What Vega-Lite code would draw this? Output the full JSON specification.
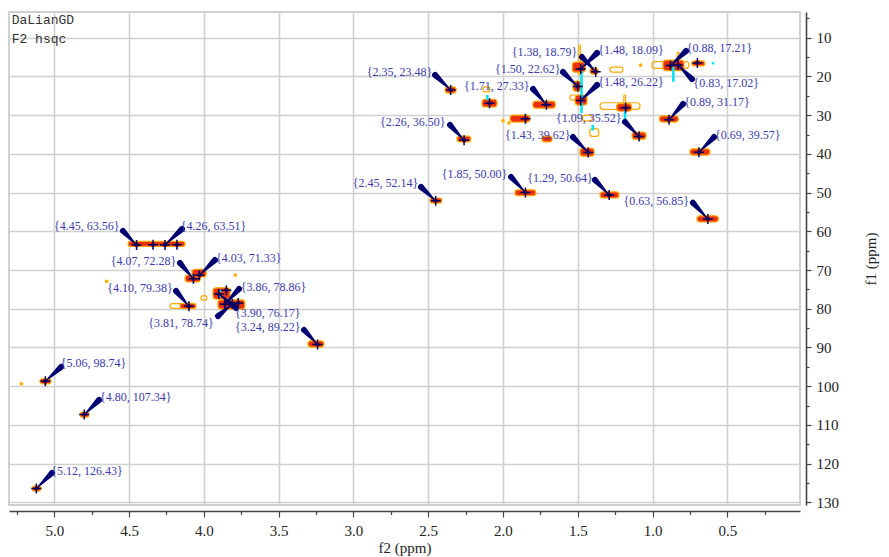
{
  "$schema": "https://vega.github.io/schema/vega-lite/v6.json",
  "width": 791,
  "height": 493,
  "autosize": {"type": "none"},
  "padding": {"left": 9, "top": 12, "right": 89, "bottom": 52},
  "background": "white",
  "config": {
    "view": {"stroke": "#d0d0d0", "strokeWidth": 2},
    "axis": {
      "domainColor": "#444444", "domainWidth": 1.6, "tickColor": "#444444", "tickWidth": 1.2,
      "gridColor": "#d0d0d0", "gridWidth": 1.6,
      "labelFont": "Liberation Serif", "labelFontSize": 15, "labelColor": "#222222",
      "titleFont": "Liberation Serif", "titleFontSize": 15, "titleFontWeight": "normal", "titleColor": "#222222",
      "labelFlush": false, "labelOverlap": false
    }
  },
  "datasets": {
    "blobs": [
      {"f2": 2.387, "f2b": 2.313, "f1": 22.7, "f1b": 24.3},
      {"f2": 2.14, "f2b": 2.04, "f1": 25.9, "f1b": 27.9},
      {"f2": 1.80, "f2b": 1.65, "f1": 26.4, "f1b": 28.2},
      {"f2": 1.953, "f2b": 1.819, "f1": 30.0, "f1b": 31.8},
      {"f2": 2.308, "f2b": 2.215, "f1": 35.4, "f1b": 36.9},
      {"f2": 1.739, "f2b": 1.672, "f1": 35.4, "f1b": 36.9},
      {"f2": 1.536, "f2b": 1.450, "f1": 16.3, "f1b": 18.9},
      {"f2": 1.418, "f2b": 1.364, "f1": 17.8, "f1b": 19.4},
      {"f2": 0.93, "f2b": 0.79, "f1": 15.8, "f1b": 18.5},
      {"f2": 0.737, "f2b": 0.650, "f1": 16.0, "f1b": 17.3},
      {"f2": 1.531, "f2b": 1.477, "f1": 21.2, "f1b": 23.8},
      {"f2": 1.518, "f2b": 1.438, "f1": 24.8, "f1b": 27.4},
      {"f2": 1.24, "f2b": 1.14, "f1": 27.0, "f1b": 29.0},
      {"f2": 1.137, "f2b": 1.043, "f1": 34.4, "f1b": 36.2},
      {"f2": 1.485, "f2b": 1.391, "f1": 38.5, "f1b": 40.6},
      {"f2": 0.954, "f2b": 0.827, "f1": 30.2, "f1b": 31.8},
      {"f2": 0.750, "f2b": 0.616, "f1": 38.7, "f1b": 40.3},
      {"f2": 1.920, "f2b": 1.780, "f1": 49.3, "f1b": 50.8},
      {"f2": 1.351, "f2b": 1.224, "f1": 49.8, "f1b": 51.4},
      {"f2": 0.703, "f2b": 0.560, "f1": 56.0, "f1b": 57.6},
      {"f2": 2.488, "f2b": 2.408, "f1": 51.4, "f1b": 52.7},
      {"f2": 4.507, "f2b": 4.126, "f1": 62.6, "f1b": 63.9},
      {"f2": 4.126, "f2b": 4.025, "f1": 71.3, "f1b": 73.1},
      {"f2": 4.079, "f2b": 3.985, "f1": 69.8, "f1b": 71.8},
      {"f2": 4.16, "f2b": 4.052, "f1": 78.6, "f1b": 80.0},
      {"f2": 3.939, "f2b": 3.825, "f1": 74.6, "f1b": 77.5},
      {"f2": 3.906, "f2b": 3.726, "f1": 77.7, "f1b": 80.1},
      {"f2": 3.304, "f2b": 3.197, "f1": 88.3, "f1b": 89.9},
      {"f2": 5.096, "f2b": 5.022, "f1": 98.1, "f1b": 99.4},
      {"f2": 4.828, "f2b": 4.768, "f1": 106.7, "f1b": 108.0},
      {"f2": 5.149, "f2b": 5.089, "f1": 125.8, "f1b": 127.1}
    ],
    "weak": [
      {"f2": 1.47, "f2b": 1.40, "f1": 30.0, "f1b": 31.5},
      {"f2": 1.42, "f2b": 1.36, "f1": 33.5, "f1b": 35.5},
      {"f2": 1.285, "f2b": 1.198, "f1": 17.6, "f1b": 18.9},
      {"f2": 2.134, "f2b": 2.087, "f1": 22.7, "f1b": 24.0},
      {"f2": 1.495, "f2b": 1.482, "f1": 11.9, "f1b": 19.6},
      {"f2": 0.835, "f2b": 0.822, "f1": 13.7, "f1b": 18.3},
      {"f2": 1.192, "f2b": 1.180, "f1": 24.8, "f1b": 28.7},
      {"f2": 1.553, "f2b": 1.506, "f1": 24.8, "f1b": 26.1},
      {"f2": 4.02, "f2b": 3.98, "f1": 76.6, "f1b": 77.8},
      {"f2": 1.351, "f2b": 1.084, "f1": 26.8, "f1b": 28.5},
      {"f2": 1.004, "f2b": 0.757, "f1": 16.2, "f1b": 17.9},
      {"f2": 4.226, "f2b": 4.10, "f1": 78.7, "f1b": 79.9}
    ],
    "dots": [
      {"f2": 4.65, "f1": 72.9},
      {"f2": 3.79, "f1": 71.3},
      {"f2": 5.22, "f1": 99.4},
      {"f2": 1.08, "f1": 17.05},
      {"f2": 1.96, "f1": 32.0},
      {"f2": 2.0, "f1": 31.4}
    ],
    "cyan": [
      {"f2": 1.475, "f1": 17.5, "f1b": 29.5},
      {"f2": 1.184, "f1": 28.7, "f1b": 32.0},
      {"f2": 2.105, "f1": 24.8, "f1b": 26.1},
      {"f2": 0.861, "f1": 17.5, "f1b": 21.4},
      {"f2": 3.892, "f1": 75.2, "f1b": 77.0},
      {"f2": 1.40, "f1": 32.5, "f1b": 34.0},
      {"f2": 0.596, "f1": 16.3, "f1b": 16.9}
    ],
    "arrows": [
      {"id": 1, "end": 0, "f2": 2.454, "f1": 19.63}, {"id": 1, "end": 1, "f2": 2.35, "f1": 23.48},
      {"id": 2, "end": 0, "f2": 2.354, "f1": 32.55}, {"id": 2, "end": 1, "f2": 2.26, "f1": 36.50},
      {"id": 3, "end": 0, "f2": 2.548, "f1": 48.56}, {"id": 3, "end": 1, "f2": 2.45, "f1": 52.14},
      {"id": 4, "end": 0, "f2": 1.472, "f1": 14.98}, {"id": 4, "end": 1, "f2": 1.38, "f1": 18.79},
      {"id": 5, "end": 0, "f2": 1.371, "f1": 13.95}, {"id": 5, "end": 1, "f2": 1.48, "f1": 18.09},
      {"id": 6, "end": 0, "f2": 0.776, "f1": 13.43}, {"id": 6, "end": 1, "f2": 0.88, "f1": 17.21},
      {"id": 7, "end": 0, "f2": 0.736, "f1": 20.67}, {"id": 7, "end": 1, "f2": 0.83, "f1": 17.02},
      {"id": 8, "end": 0, "f2": 1.599, "f1": 18.86}, {"id": 8, "end": 1, "f2": 1.50, "f1": 22.62},
      {"id": 9, "end": 0, "f2": 1.799, "f1": 23.25}, {"id": 9, "end": 1, "f2": 1.71, "f1": 27.33},
      {"id": 10, "end": 0, "f2": 1.371, "f1": 22.22}, {"id": 10, "end": 1, "f2": 1.48, "f1": 26.22},
      {"id": 11, "end": 0, "f2": 0.796, "f1": 27.12}, {"id": 11, "end": 1, "f2": 0.89, "f1": 31.17},
      {"id": 12, "end": 0, "f2": 1.184, "f1": 31.77}, {"id": 12, "end": 1, "f2": 1.09, "f1": 35.52},
      {"id": 13, "end": 0, "f2": 1.532, "f1": 35.65}, {"id": 13, "end": 1, "f2": 1.43, "f1": 39.62},
      {"id": 14, "end": 0, "f2": 0.589, "f1": 35.65}, {"id": 14, "end": 1, "f2": 0.69, "f1": 39.57},
      {"id": 15, "end": 0, "f2": 1.946, "f1": 45.98}, {"id": 15, "end": 1, "f2": 1.85, "f1": 50.00},
      {"id": 16, "end": 0, "f2": 1.385, "f1": 46.75}, {"id": 16, "end": 1, "f2": 1.29, "f1": 50.64},
      {"id": 17, "end": 0, "f2": 0.730, "f1": 52.6}, {"id": 17, "end": 1, "f2": 0.63, "f1": 56.85},
      {"id": 18, "end": 0, "f2": 4.541, "f1": 59.92}, {"id": 18, "end": 1, "f2": 4.45, "f1": 63.56},
      {"id": 19, "end": 0, "f2": 4.146, "f1": 59.41}, {"id": 19, "end": 1, "f2": 4.26, "f1": 63.51},
      {"id": 20, "end": 0, "f2": 4.160, "f1": 68.19}, {"id": 20, "end": 1, "f2": 4.07, "f1": 72.28},
      {"id": 21, "end": 0, "f2": 3.926, "f1": 67.41}, {"id": 21, "end": 1, "f2": 4.03, "f1": 71.33},
      {"id": 22, "end": 0, "f2": 4.186, "f1": 75.42}, {"id": 22, "end": 1, "f2": 4.10, "f1": 79.38},
      {"id": 23, "end": 0, "f2": 3.765, "f1": 74.90}, {"id": 23, "end": 1, "f2": 3.86, "f1": 78.86},
      {"id": 24, "end": 0, "f2": 3.785, "f1": 79.81}, {"id": 24, "end": 1, "f2": 3.90, "f1": 76.17},
      {"id": 25, "end": 0, "f2": 3.905, "f1": 81.87}, {"id": 25, "end": 1, "f2": 3.81, "f1": 78.74},
      {"id": 26, "end": 0, "f2": 3.330, "f1": 85.49}, {"id": 26, "end": 1, "f2": 3.24, "f1": 89.22},
      {"id": 27, "end": 0, "f2": 4.955, "f1": 95.05}, {"id": 27, "end": 1, "f2": 5.06, "f1": 98.74},
      {"id": 28, "end": 0, "f2": 4.701, "f1": 103.57}, {"id": 28, "end": 1, "f2": 4.80, "f1": 107.34},
      {"id": 29, "end": 0, "f2": 5.015, "f1": 122.42}, {"id": 29, "end": 1, "f2": 5.12, "f1": 126.43}
    ],
    "crosses": [
      {"f2": 2.35, "f1": 23.48}, {"f2": 2.26, "f1": 36.50}, {"f2": 2.45, "f1": 52.14},
      {"f2": 1.38, "f1": 18.79}, {"f2": 1.48, "f1": 18.09}, {"f2": 0.88, "f1": 17.21},
      {"f2": 0.83, "f1": 17.02}, {"f2": 1.50, "f1": 22.62}, {"f2": 1.71, "f1": 27.33},
      {"f2": 1.48, "f1": 26.22}, {"f2": 0.89, "f1": 31.17}, {"f2": 1.09, "f1": 35.52},
      {"f2": 1.43, "f1": 39.62}, {"f2": 0.69, "f1": 39.57}, {"f2": 1.85, "f1": 50.00},
      {"f2": 1.29, "f1": 50.64}, {"f2": 0.63, "f1": 56.85}, {"f2": 4.45, "f1": 63.56},
      {"f2": 4.26, "f1": 63.51}, {"f2": 4.07, "f1": 72.28}, {"f2": 4.03, "f1": 71.33},
      {"f2": 4.10, "f1": 79.38}, {"f2": 3.86, "f1": 78.86}, {"f2": 3.90, "f1": 76.17},
      {"f2": 3.81, "f1": 78.74}, {"f2": 3.24, "f1": 89.22}, {"f2": 5.06, "f1": 98.74},
      {"f2": 4.80, "f1": 107.34}, {"f2": 5.12, "f1": 126.43},
      {"f2": 2.09, "f1": 26.9}, {"f2": 1.85, "f1": 30.9}, {"f2": 1.18, "f1": 28.1},
      {"f2": 0.70, "f1": 16.5}, {"f2": 4.34, "f1": 63.5}, {"f2": 4.18, "f1": 63.5},
      {"f2": 3.85, "f1": 75.2}, {"f2": 3.77, "f1": 78.5}
    ],
    "labels": [
      {"label": "{2.35, 23.48}", "f2": 2.911, "f1": 18.78},
      {"label": "{2.26, 36.50}", "f2": 2.822, "f1": 31.77},
      {"label": "{2.45, 52.14}", "f2": 3.005, "f1": 47.45},
      {"label": "{1.38, 18.79}", "f2": 1.942, "f1": 13.77},
      {"label": "{1.48, 18.09}", "f2": 1.363, "f1": 13.18},
      {"label": "{0.88, 17.21}", "f2": 0.772, "f1": 12.58},
      {"label": "{0.83, 17.02}", "f2": 0.727, "f1": 21.78},
      {"label": "{1.50, 22.62}", "f2": 2.053, "f1": 18.08},
      {"label": "{1.71, 27.33}", "f2": 2.261, "f1": 22.47},
      {"label": "{1.48, 26.22}", "f2": 1.363, "f1": 21.52},
      {"label": "{0.89, 31.17}", "f2": 0.788, "f1": 26.53},
      {"label": "{1.09, 35.52}", "f2": 1.646, "f1": 30.82},
      {"label": "{1.43, 39.62}", "f2": 1.987, "f1": 35.13},
      {"label": "{0.69, 39.57}", "f2": 0.582, "f1": 35.13},
      {"label": "{1.85, 50.00}", "f2": 2.410, "f1": 45.28},
      {"label": "{1.29, 50.64}", "f2": 1.837, "f1": 46.16},
      {"label": "{0.63, 56.85}", "f2": 1.194, "f1": 52.17},
      {"label": "{4.45, 63.56}", "f2": 5.002, "f1": 58.63},
      {"label": "{4.26, 63.51}", "f2": 4.155, "f1": 58.63},
      {"label": "{4.07, 72.28}", "f2": 4.623, "f1": 67.67},
      {"label": "{4.03, 71.33}", "f2": 3.919, "f1": 66.82},
      {"label": "{4.10, 79.38}", "f2": 4.646, "f1": 74.72},
      {"label": "{3.86, 78.86}", "f2": 3.754, "f1": 74.31},
      {"label": "{3.90, 76.17}", "f2": 3.792, "f1": 81.02},
      {"label": "{3.81, 78.74}", "f2": 4.372, "f1": 83.76},
      {"label": "{3.24, 89.22}", "f2": 3.792, "f1": 84.64},
      {"label": "{5.06, 98.74}", "f2": 4.957, "f1": 94.09},
      {"label": "{4.80, 107.34}", "f2": 4.694, "f1": 102.72},
      {"label": "{5.12, 126.43}", "f2": 5.020, "f1": 121.83}
    ],
    "header": [{"f2": 5.285, "f1": 4.0}]
  },
  "encoding": {
    "x": {
      "field": "f2", "type": "quantitative",
      "scale": {"domain": [0.014, 5.303], "reverse": true, "nice": false, "zero": false},
      "axis": {
        "orient": "bottom", "offset": 6, "title": "f2 (ppm)",
        "values": [5.25, 5, 4.75, 4.5, 4.25, 4, 3.75, 3.5, 3.25, 3, 2.75, 2.5, 2.25, 2, 1.75, 1.5, 1.25, 1, 0.75, 0.5, 0.25],
        "labelExpr": "datum.value % 0.5 === 0 ? format(datum.value, '.1f') : ''",
        "tickSize": {"condition": {"test": "datum.value % 0.5 === 0", "value": 6}, "value": 3.5},
        "grid": true,
        "gridOpacity": {"condition": {"test": "datum.value % 0.5 === 0", "value": 1}, "value": 0},
        "labelPadding": 6, "titlePadding": 2
      }
    },
    "y": {
      "field": "f1", "type": "quantitative",
      "scale": {"domain": [3.36, 130.69], "reverse": true, "nice": false, "zero": false},
      "axis": {
        "orient": "right", "offset": 6, "title": "f1 (ppm)", "titleAngle": 270,
        "values": [5, 10, 15, 20, 25, 30, 35, 40, 45, 50, 55, 60, 65, 70, 75, 80, 85, 90, 95, 100, 105, 110, 115, 120, 125, 130],
        "labelExpr": "datum.value % 10 === 0 ? format(datum.value, 'd') : ''",
        "tickSize": {"condition": {"test": "datum.value % 10 === 0", "value": 5}, "value": 3},
        "grid": true,
        "gridOpacity": {"condition": {"test": "datum.value % 10 === 0", "value": 1}, "value": 0},
        "labelPadding": 5, "titlePadding": 40
      }
    }
  },
  "layer": [
    {
      "data": {"name": "weak"},
      "mark": {"type": "rect", "fill": null, "stroke": "#ffa800", "strokeWidth": 1.2, "cornerRadius": 3},
      "encoding": {"x2": {"field": "f2b"}, "y2": {"field": "f1b"}}
    },
    {
      "data": {"name": "blobs"},
      "mark": {"type": "rect", "fill": "#e8300f", "stroke": "#ffa800", "strokeWidth": 1.2, "cornerRadius": 3},
      "encoding": {"x2": {"field": "f2b"}, "y2": {"field": "f1b"}}
    },
    {
      "data": {"name": "dots"},
      "mark": {"type": "point", "shape": "circle", "filled": true, "color": "#ffb000", "size": 14, "opacity": 1}
    },
    {
      "data": {"name": "cyan"},
      "mark": {"type": "rule", "color": "#00e5f0", "strokeWidth": 2.5},
      "encoding": {"y2": {"field": "f1b"}}
    },
    {
      "data": {"name": "crosses"},
      "mark": {"type": "point", "shape": "circle", "filled": true, "color": "#a00000", "size": 22, "opacity": 1}
    },
    {
      "data": {"name": "arrows"},
      "mark": {"type": "trail", "color": "#000070"},
      "encoding": {
        "detail": {"field": "id", "type": "nominal"},
        "order": {"field": "end", "type": "quantitative"},
        "size": {"field": "end", "type": "quantitative", "scale": {"domain": [0, 1], "range": [6, 0.8]}, "legend": null}
      }
    },
    {
      "data": {"name": "crosses"},
      "mark": {"type": "point", "shape": "M-1,0L1,0M0,-1L0,1", "filled": false, "stroke": "#000060", "strokeWidth": 1.5, "size": 100, "opacity": 1}
    },
    {
      "data": {"name": "labels"},
      "mark": {"type": "text", "align": "left", "baseline": "middle", "font": "Liberation Serif", "fontSize": 12, "color": "#3b3bab"},
      "encoding": {"text": {"field": "label", "type": "nominal"}}
    },
    {
      "data": {"name": "header"},
      "mark": {"type": "text", "align": "left", "baseline": "top", "font": "Liberation Mono", "fontSize": 13, "color": "#333333", "lineHeight": 19, "text": ["DaLianGD", "F2 hsqc"]}
    }
  ]
}
